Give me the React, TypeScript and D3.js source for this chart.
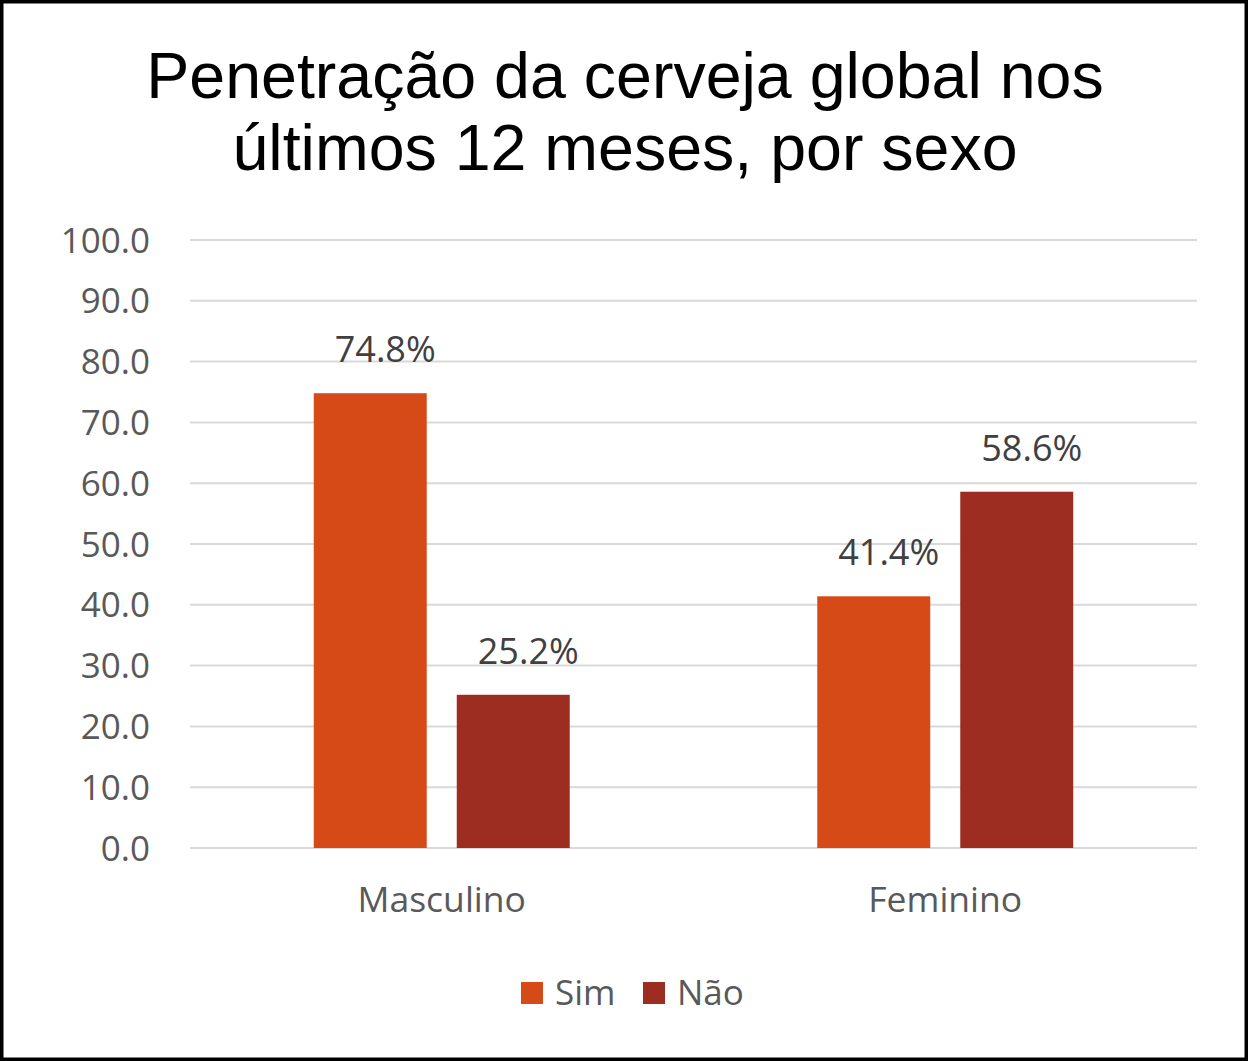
import React from "react";
import * as d3 from "d3";

const categories = ["Masculino", "Feminino"];
const series = ["Sim", "Não"];
const simValues = [74.8, 41.4];
const naoValues = [25.2, 58.6];
const yTicks = [0, 10, 20, 30, 40, 50, 60, 70, 80, 90, 100];
const colors = ["#D64A18", "#9D2D20"];
const titleLines = ["Penetração da cerveja global nos", "últimos 12 meses, por sexo"];

const W = 1248;
const H = 1061;
const plotLeft = 190;
const plotRight = 1197;
const plotTop = 240;
const plotBottom = 848;
const FONT = "'Open Sans', sans-serif";

export default function App() {
  const y = d3.scaleLinear().domain([0, 100]).range([plotBottom, plotTop]);
  const x0 = d3
    .scaleBand<string>()
    .domain(categories)
    .range([plotLeft, plotRight])
    .paddingInner(0.4916)
    .paddingOuter(0.2458);
  const x1 = d3
    .scaleBand<string>()
    .domain(series)
    .range([0, x0.bandwidth()])
    .paddingInner(0.21)
    .paddingOuter(0);
  const values = [simValues, naoValues];

  return (
    <svg
      width={W}
      height={H}
      style={{ position: "absolute", left: 0, top: 0, background: "#fff" }}
    >
      <rect x={0} y={0} width={W} height={H} fill="#fff" />
      {titleLines.map((t, i) => (
        <text
          key={i}
          x={625}
          y={98 + i * 72}
          textAnchor="middle"
          fontFamily="'Liberation Sans', Arial, sans-serif"
          fontSize={64.5}
          fill="#000"
        >
          {t}
        </text>
      ))}
      {yTicks.map((t) => (
        <g key={t}>
          <line
            x1={plotLeft}
            x2={plotRight}
            y1={y(t)}
            y2={y(t)}
            stroke="#D9D9D9"
            strokeWidth={2}
          />
          <text
            x={150}
            y={y(t)}
            dy="0.36em"
            textAnchor="end"
            fontFamily={FONT}
            fontSize={35}
            fill="#595959"
          >
            {t.toFixed(1)}
          </text>
        </g>
      ))}
      {categories.map((c, ci) => (
        <g key={c} transform={`translate(${x0(c)},0)`}>
          {series.map((s, si) => {
            const v = values[si][ci];
            const bx = x1(s)!;
            return (
              <g key={s}>
                <rect
                  x={bx}
                  y={y(v)}
                  width={x1.bandwidth()}
                  height={y(0) - y(v)}
                  fill={colors[si]}
                />
                <text
                  x={bx + x1.bandwidth() / 2 + 15}
                  y={y(v) - 31}
                  textAnchor="middle"
                  fontFamily={FONT}
                  fontSize={36}
                  fill="#404040"
                >
                  {v.toFixed(1)}%
                </text>
              </g>
            );
          })}
          <text
            x={x0.bandwidth() / 2}
            y={912}
            textAnchor="middle"
            fontFamily={FONT}
            fontSize={35.5}
            fill="#595959"
          >
            {c}
          </text>
        </g>
      ))}
      {series.map((s, si) => {
        const lx = si === 0 ? 521 : 643;
        return (
          <g key={s}>
            <rect x={lx} y={982} width={22} height={22} fill={colors[si]} />
            <text
              x={lx + 34}
              y={1005}
              fontFamily={FONT}
              fontSize={35}
              fill="#595959"
            >
              {s}
            </text>
          </g>
        );
      })}
      <rect
        x={1.75}
        y={1.75}
        width={W - 3.5}
        height={H - 3.5}
        fill="none"
        stroke="#000"
        strokeWidth={3.5}
      />
    </svg>
  );
}
